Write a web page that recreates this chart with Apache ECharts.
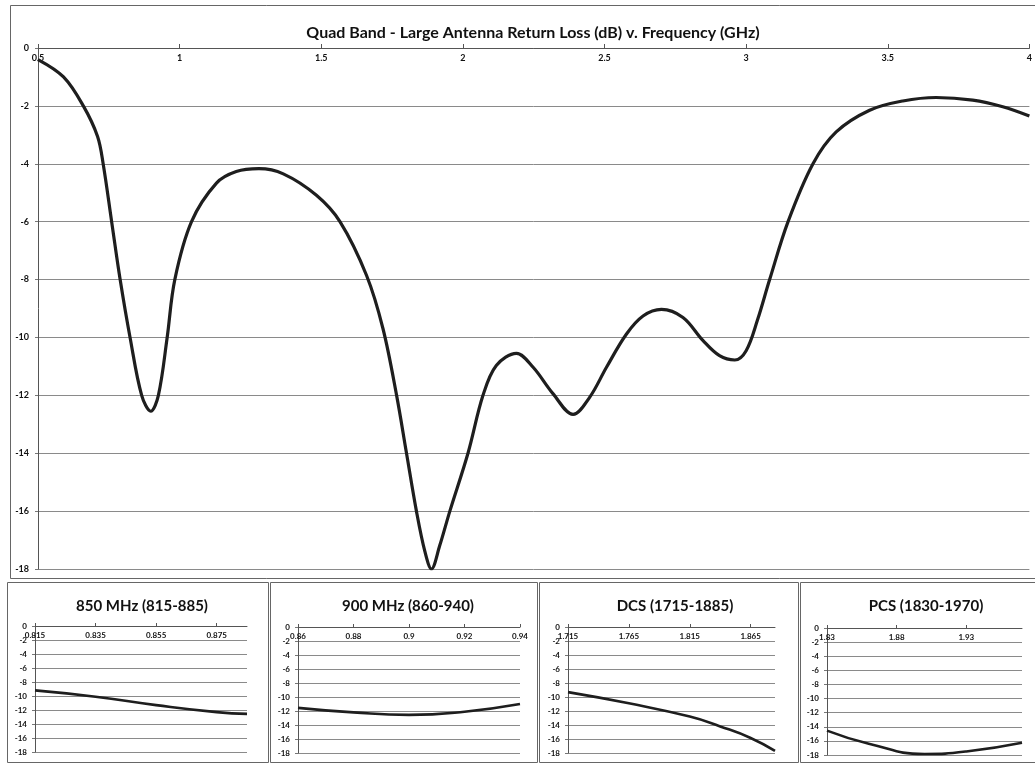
<!DOCTYPE html>
<html>
<head>
<meta charset="utf-8">
<script src="https://cdn.jsdelivr.net/npm/echarts@6/dist/echarts.min.js"></script>
<style>
html,body{margin:0;padding:0;background:#fff;}
#c{width:1035px;height:765px;}
</style>
</head>
<body>
<div id="c"></div>
<script>
// ---- Data ----
const mainTitle = 'Quad Band - Large Antenna Return Loss (dB) v. Frequency (GHz)';
const mainFreq = [0.5,0.59,0.66,0.71,0.73,0.76,0.79,0.825,0.866,0.898,0.925,0.956,0.983,1.042,1.13,1.2,1.28,1.366,1.483,1.566,1.66,1.718,1.766,1.801,1.836,1.866,1.889,1.918,1.954,2.018,2.071,2.118,2.189,2.248,2.318,2.389,2.448,2.507,2.577,2.636,2.701,2.777,2.848,2.906,2.96,3.0,3.04,3.083,3.148,3.236,3.318,3.436,3.553,3.671,3.8,3.906,4.0];
const mainLoss = [-0.4,-1.0,-2.0,-3.05,-4.0,-6.0,-8.0,-10.0,-12.0,-12.55,-12.0,-10.0,-8.0,-6.0,-4.67,-4.27,-4.17,-4.35,-5.09,-6.0,-7.86,-9.7,-12.0,-14.0,-16.0,-17.4,-18.0,-17.2,-16.0,-14.0,-12.0,-10.97,-10.55,-11.03,-11.94,-12.66,-12.06,-11.03,-9.89,-9.26,-9.03,-9.31,-10.11,-10.63,-10.78,-10.46,-9.4,-8.0,-6.0,-4.0,-2.9,-2.15,-1.83,-1.71,-1.8,-2.03,-2.35];

const band850Title = '850 MHz (815-885)';
const band850Freq = [0.815,0.835,0.855,0.875,0.885];
const band850Loss = [-9.2,-10.1,-11.3,-12.3,-12.55];

const band900Title = '900 MHz (860-940)';
const band900Freq = [0.86,0.88,0.9,0.92,0.94];
const band900Loss = [-11.55,-12.2,-12.55,-12.1,-11.0];

const dcsTitle = 'DCS (1715-1885)';
const dcsFreq = [1.715,1.765,1.815,1.84,1.865,1.885];
const dcsLoss = [-9.3,-10.9,-12.8,-14.2,-15.85,-17.7];

const pcsTitle = 'PCS (1830-1970)';
const pcsFreq = [1.83,1.86,1.9,1.93,1.97];
const pcsLoss = [-14.55,-16.4,-17.85,-17.5,-16.25];

const lossMin = -18, lossMax = 0, lossStep = 2;
const mainX = {min:0.5, max:4, step:0.5};
const bandX = [
  {min:0.815, max:0.885, step:0.02},
  {min:0.86, max:0.94, step:0.02},
  {min:1.715, max:1.885, step:0.05},
  {min:1.83, max:1.97, step:0.05}
];

// ---- Chart ----
const FONT = 'Lato, "Open Sans", sans-serif';
const grids = [
  {left:38, top:48, width:992, height:521},
  {left:35, top:626, width:212, height:126},
  {left:298, top:627, width:222, height:126},
  {left:568, top:627, width:207, height:126},
  {left:827, top:628, width:195, height:127}
];
const pairs = (xs, ys) => xs.map((x,i)=>[x, ys[i]]);
const fmt = v => String(+(+v).toFixed(4));

function xAxisFor(i, cfg, big){
  return {
    type:'value', gridIndex:i, position:'top',
    min:cfg.min, max:cfg.max, interval:cfg.step,
    axisLine:{show:true, onZero:false, lineStyle:{color:'#555', width:1}},
    axisTick:{show:true, length:big?4:3, lineStyle:{color:'#555'}},
    splitLine:{show:false},
    axisLabel:{inside:true, margin:big?6:5, color:'#111', fontFamily:FONT, fontWeight:'bold',
      fontSize:big?9:8, showMaxLabel: i===0 || i===2 ? true : false, formatter:fmt}
  };
}
function yAxisFor(i, big){
  return {
    type:'value', gridIndex:i, min:lossMin, max:lossMax, interval:lossStep,
    axisLine:{show:true, lineStyle:{color:'#555', width:1}},
    axisTick:{show:true, length:3, lineStyle:{color:'#777'}},
    splitLine:{show:true, lineStyle:{color:'#8a8a8a', width:1}},
    axisLabel:{margin:big?9:8, color:'#111', fontFamily:FONT, fontWeight:'bold', fontSize:big?9:8}
  };
}
function lineSeries(i, xs, ys, big){
  return {
    type:'line', xAxisIndex:i, yAxisIndex:i, data:pairs(xs, ys),
    smooth:big?0.35:0.5, showSymbol:false, symbol:'none',
    lineStyle:{color:'#1e1e1e', width:big?3.2:2.6}, silent:true
  };
}

const titles = [
  {text:mainTitle, x:528, y:20, size:16},
  {text:band850Title, x:137, y:594, size:15},
  {text:band900Title, x:403, y:594, size:15},
  {text:dcsTitle, x:670, y:594, size:15},
  {text:pcsTitle, x:921, y:594, size:15}
].map(t=>({text:t.text, left:t.x, top:t.y, textAlign:'center',
  textStyle:{fontFamily:FONT, fontWeight:'bold', fontSize:t.size, color:'#111'}}));

const boxes = [
  [10,5,1025,573],
  [7,582,261,180],
  [270,582,267,180],
  [539,582,259,180],
  [800,582,240,180]
].map(b=>({type:'rect', shape:{x:b[0]+0.5,y:b[1]+0.5,width:b[2],height:b[3]},
  style:{fill:'none', stroke:'#666', lineWidth:1}, silent:true, z:-1}));

const chart = echarts.init(document.getElementById('c'), null, {renderer:'canvas'});
chart.setOption({
  backgroundColor:'#ffffff',
  animation:false,
  title:titles,
  graphic:boxes,
  grid:grids,
  xAxis:[xAxisFor(0, mainX, true)].concat(bandX.map((c,k)=>xAxisFor(k+1, c, false))),
  yAxis:[yAxisFor(0,true),yAxisFor(1,false),yAxisFor(2,false),yAxisFor(3,false),yAxisFor(4,false)],
  series:[
    lineSeries(0, mainFreq, mainLoss, true),
    lineSeries(1, band850Freq, band850Loss, false),
    lineSeries(2, band900Freq, band900Loss, false),
    lineSeries(3, dcsFreq, dcsLoss, false),
    lineSeries(4, pcsFreq, pcsLoss, false)
  ]
});
</script>
</body>
</html>
